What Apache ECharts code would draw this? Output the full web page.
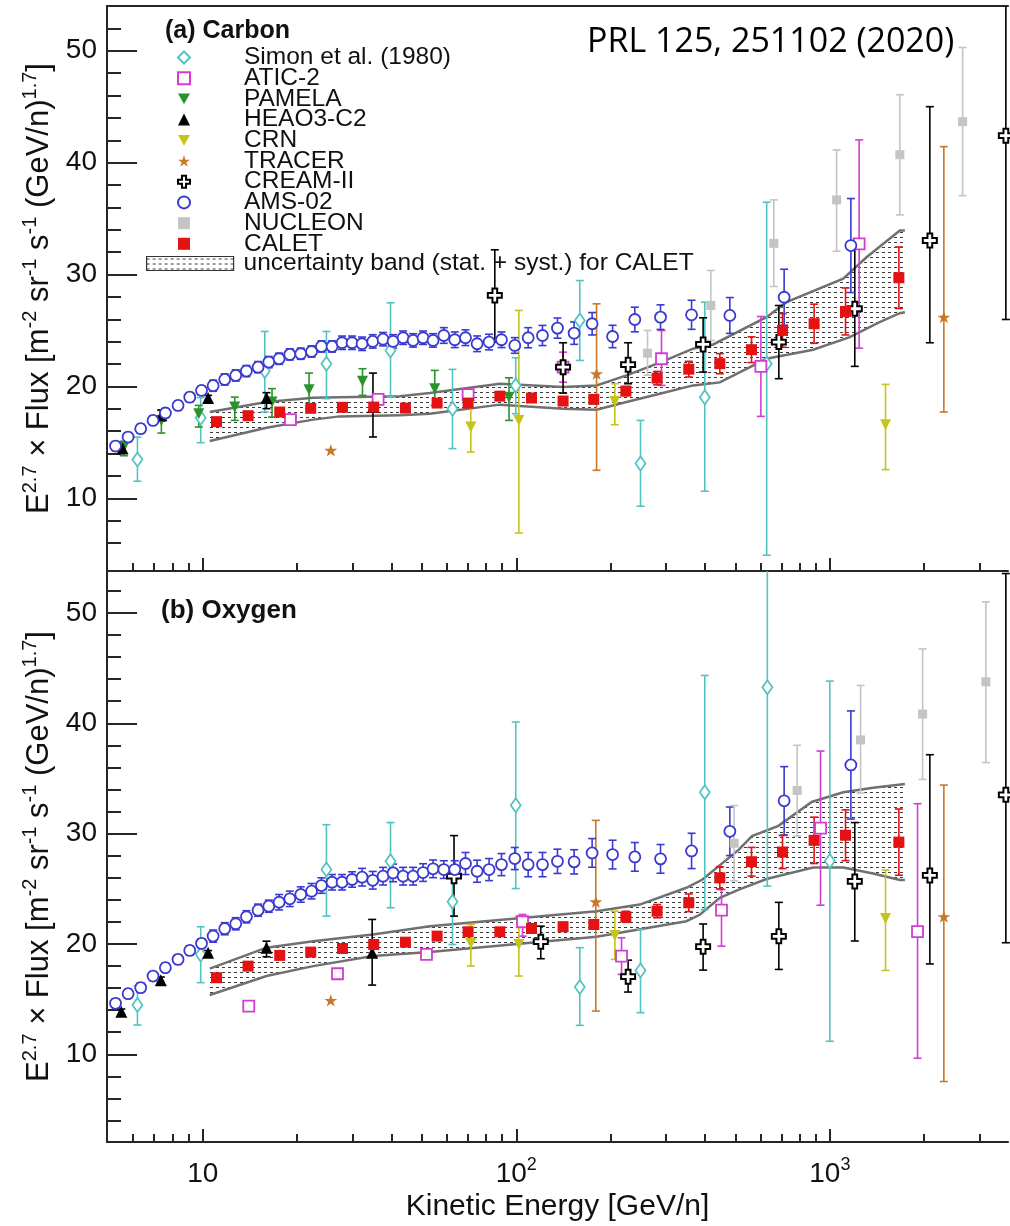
<!DOCTYPE html>
<html>
<head>
<meta charset="utf-8">
<script src="https://cdn.jsdelivr.net/npm/echarts@6/dist/echarts.min.js"></script>
<style>
html, body { margin: 0; padding: 0; background: #fff; }
#chart { width: 1010px; height: 1226px; }
</style>
</head>
<body>
<div id="chart"></div>
<script>
// ---- data: rows are [E (GeV/n), value, low, high] ----
var carbonSimon = [
  [6.19, 13.46, 11.52, 15.47], [9.85, 17.2, 14.97, 19.0], [15.77, 21.37, 17.71, 24.91],
  [24.8, 22.03, 18.9, 24.91], [39.7, 23.21, 19.04, 27.47], [62.6, 18.01, 14.44, 21.52],
  [99.6, 20.09, 17.56, 22.56], [159.4, 25.89, 22.32, 29.46], [249, 13.1, 9.29, 16.96],
  [399.2, 19.04, 10.63, 27.53], [629, 22.03, 4.91, 36.46]
];
var carbonATIC = [
  [19.04, 17.03, 16.7, 17.4], [36.24, 18.84, 18.5, 19.2], [70.2, 19.26, 18.9, 19.6],
  [141, 21.72, 20.38, 23.06], [290.5, 22.47, 20.09, 25.0], [602.6, 21.79, 17.32, 26.25],
  [1240, 32.74, 23.42, 42.03]
];
var carbonPAMELA = [
  [5.6, 14.55, 13.8, 15.1], [7.38, 16.96, 15.83, 17.86], [9.71, 17.56, 16.37, 18.3],
  [12.65, 18.15, 16.96, 19.04], [16.63, 18.6, 17.26, 19.8], [21.83, 19.71, 18.01, 21.19],
  [32.32, 20.45, 19.2, 21.58], [54.95, 19.79, 18.3, 21.43], [94.8, 19.04, 16.96, 20.77]
];
var carbonHEAO = [
  [5.55, 14.44, 14.1, 14.8], [7.38, 17.41, 16.9, 17.9], [10.4, 18.96, 18.7, 19.2],
  [15.97, 18.96, 18.01, 19.44], [34.9, 18.15, 15.48, 21.19]
];
var carbonCRN = [
  [71.6, 16.37, 14.13, 18.75], [101.9, 16.96, 6.9, 26.79], [206.2, 18.66, 16.58, 20.24],
  [1505, 16.58, 12.56, 20.18]
];
var carbonTRACER = [
  [25.6, 14.29, 14.29, 14.29], [180.3, 21.13, 12.5, 27.38], [2310, 26.19, 17.71, 41.43]
];
var carbonCREAM = [
  [85.4, 28.13, 23.96, 32.21], [141, 21.72, 19.4, 23.9], [227.3, 21.94, 20.24, 23.9],
  [394.3, 23.75, 21.28, 26.13], [687.6, 23.96, 20.69, 27.23], [1201, 26.94, 21.79, 32.44],
  [2084, 33.04, 23.9, 45.0], [3642, 42.41, 25.98, 58]
];
var carbonNUCLEON = [
  [262.1, 22.97, 21.0, 25.0], [417.2, 27.23, 24.11, 30.36], [662.7, 32.79, 28.93, 36.67],
  [1051, 36.67, 32.08, 41.13], [1672, 40.71, 35.33, 46.07], [2651, 43.66, 37.05, 50.29]
];

var oxygenSimon = [
  [6.19, 14.46, 12.65, 16.18], [9.85, 19.05, 16.49, 21.56], [24.8, 26.74, 22.52, 30.81],
  [39.7, 27.49, 23.28, 31.0], [62.6, 23.82, 19.95, 26.59], [99.6, 32.56, 25.02, 40.11],
  [159.4, 16.09, 12.62, 19.66], [249, 17.6, 13.77, 21.31], [399.2, 33.75, 23.12, 44.33],
  [632, 43.27, 25.24, 56], [1000, 27.51, 11.18, 43.82]
];
var oxygenATIC = [
  [14.02, 14.37, 14.1, 14.7], [26.9, 17.3, 17.0, 17.6], [51.7, 19.05, 18.75, 19.35],
  [104.7, 22.01, 20.71, 22.67], [216.6, 18.9, 17.24, 20.56], [451.3, 23.06, 19.8, 24.93],
  [933.9, 30.5, 23.51, 37.48], [1904, 21.11, 9.64, 32.71]
];
var oxygenHEAO = [
  [5.5, 13.86, 13.6, 14.1], [7.35, 16.72, 16.5, 17.0], [10.4, 19.2, 19.0, 19.4],
  [15.97, 19.66, 18.84, 20.25], [34.7, 19.2, 16.27, 22.22]
];
var oxygenCRN = [
  [71.6, 20.05, 18.0, 21.76], [101.9, 19.95, 17.09, 22.52], [206.2, 20.77, 18.6, 22.97],
  [1505, 22.31, 17.6, 26.7]
];
var oxygenTRACER = [
  [25.6, 14.89, 14.89, 14.89], [179.3, 23.82, 13.92, 31.2], [2310, 22.48, 7.53, 34.4]
];
var oxygenCREAM = [
  [63.3, 26.14, 22.52, 29.82], [119.7, 20.2, 18.66, 21.61], [227.3, 17.03, 15.64, 18.53],
  [394.3, 19.75, 17.63, 21.81], [687.6, 20.69, 17.69, 23.77], [1201, 25.66, 20.27, 31.0],
  [2084, 26.21, 18.19, 37.15], [3642, 33.52, 20.11, 53.57]
];
var oxygenNUCLEON = [
  [495.1, 29.13, 25.73, 32.54], [786.5, 33.91, 29.78, 38.0], [1253, 38.49, 33.68, 43.43],
  [1976, 40.83, 34.91, 46.74], [3145, 43.76, 36.44, 51.0]
];

// AMS-02: shared energies, values and symmetric errors
var amsEnergy = [5.27, 5.78, 6.34, 6.94, 7.6, 8.34, 9.09, 9.91, 10.79, 11.75, 12.74, 13.78, 15.01,
  16.24, 17.52, 18.95, 20.54, 22.23, 23.91, 25.85, 27.82, 29.94, 32.22, 34.85, 37.59, 40.46, 43.55,
  46.87, 50.43, 54.27, 58.72, 63.64, 68.86, 74.99, 81.88, 89.7, 98.9, 109.1, 121.2, 135.3, 152.9,
  174.5, 202.8, 238.8, 288.4, 362.2, 479.8, 714.9, 1167];
var carbonAMS = [14.67, 15.47, 16.22, 16.96, 17.62, 18.3, 19.04, 19.64, 20.06, 20.62, 20.98, 21.37,
  21.72, 22.17, 22.47, 22.86, 22.92, 23.12, 23.57, 23.57, 23.9, 23.9, 23.81, 24.02, 24.22, 24.02,
  24.35, 24.11, 24.35, 24.11, 24.55, 24.17, 24.35, 23.81, 23.96, 24.17, 23.66, 24.35, 24.55, 25.21,
  24.76, 25.6, 24.46, 25.98, 26.19, 26.4, 26.34, 27.97, 32.59];
var carbonAMSErr = [0.4, 0.4, 0.4, 0.4, 0.4, 0.4, 0.4, 0.4, 0.5, 0.5, 0.5, 0.5, 0.5, 0.5, 0.5, 0.5,
  0.5, 0.5, 0.5, 0.5, 0.6, 0.6, 0.6, 0.6, 0.6, 0.6, 0.6, 0.6, 0.6, 0.6, 0.7, 0.7, 0.7, 0.7, 0.7, 0.7,
  0.7, 0.9, 0.9, 0.9, 1.0, 1.0, 1.0, 1.1, 1.1, 1.3, 1.6, 2.5, 4.2];
var oxygenAMS = [14.62, 15.49, 16.04, 17.09, 17.85, 18.6, 19.41, 20.05, 20.71, 21.38, 21.83, 22.46,
  23.06, 23.42, 23.78, 24.09, 24.48, 24.78, 25.29, 25.59, 25.59, 25.84, 26.05, 25.77, 26.14, 26.44,
  26.14, 26.14, 26.47, 26.81, 26.74, 26.74, 27.29, 26.59, 26.74, 27.19, 27.74, 27.19, 27.19, 27.49,
  27.44, 28.25, 28.1, 27.89, 27.71, 28.43, 30.21, 32.97, 36.22];
var oxygenAMSErr = [0.4, 0.4, 0.4, 0.4, 0.4, 0.4, 0.4, 0.4, 0.55, 0.55, 0.55, 0.55, 0.55, 0.55, 0.7,
  0.7, 0.7, 0.7, 0.7, 0.7, 0.7, 0.7, 0.8, 0.8, 0.8, 0.8, 0.8, 0.8, 0.8, 0.8, 0.8, 0.8, 1.0, 1.0, 1.0,
  1.0, 1.0, 1.1, 1.1, 1.1, 1.1, 1.3, 1.3, 1.3, 1.3, 1.6, 2.2, 3.1, 4.9];

// CALET
var caletEnergy = [11.06, 13.95, 17.6, 22.1, 27.9, 35.1, 44.3, 55.9, 70.2, 88.6, 111.8, 141, 176.7,
  223.6, 281.2, 354.9, 445.8, 562.6, 706.5, 891, 1122, 1660];
var carbonCALET = [16.85, 17.38, 17.71, 18.04, 18.13, 18.15, 18.06, 18.51, 18.51, 19.13, 18.96,
  18.69, 18.84, 19.58, 20.74, 21.54, 22.03, 23.28, 25.0, 25.6, 26.7, 29.71];
var carbonCALETErr = [0.2, 0.2, 0.2, 0.2, 0.2, 0.2, 0.2, 0.25, 0.25, 0.3, 0.3, 0.3, 0.35, 0.4, 0.6,
  0.7, 0.9, 1.15, 1.5, 1.75, 2.1, 2.75];
var oxygenCALET = [16.94, 17.99, 18.96, 19.26, 19.59, 19.95, 20.16, 20.71, 21.1, 21.1, 21.4, 21.56,
  21.76, 22.46, 22.97, 23.73, 25.99, 27.45, 28.33, 29.39, 29.85, 29.23];
var oxygenCALETErr = [0.2, 0.2, 0.2, 0.2, 0.2, 0.25, 0.25, 0.3, 0.3, 0.3, 0.35, 0.4, 0.4, 0.5, 0.6,
  0.8, 1.0, 1.3, 1.5, 2.1, 2.3, 3.0];

// CALET uncertainty bands: [E, value]
var carbonBandUpper = [[10.53, 17.71], [15.97, 18.6], [22.48, 18.99], [27.35, 19.04], [42.5, 19.11],
  [52.98, 19.4], [88.6, 20.24], [141, 19.94], [180.3, 20.09], [224.7, 20.98], [286.9, 22.12],
  [366.4, 23.37], [424.5, 23.75], [628, 26.19], [727.8, 27.53], [1103, 29.62], [1309, 31.54],
  [1672, 33.93], [1735, 33.93]];
var carbonBandLower = [[10.53, 15.12], [15.97, 16.31], [22.48, 17.03], [27.35, 17.32], [42.5, 17.41],
  [52.98, 17.56], [88.6, 18.37], [141, 18.01], [180.3, 17.92], [224.7, 18.6], [286.9, 19.35],
  [366.4, 20.09], [445.8, 20.36], [628, 22.47], [884, 23.28], [1158, 24.4], [1441, 25.74],
  [1672, 26.54], [1735, 26.63]];
var oxygenBandUpper = [[10.53, 17.76], [15.97, 19.66], [22.48, 20.25], [34.9, 20.86], [52.98, 21.61],
  [180.3, 22.97], [247.5, 23.57], [348.6, 25.09], [392.6, 25.84], [512.5, 28.55], [564.6, 29.78],
  [685.3, 30.7], [875.3, 32.87], [1103, 33.75], [1374, 34.16], [1735, 34.5]];
var oxygenBandLower = [[10.53, 15.37], [15.97, 17.09], [22.48, 17.99], [34.9, 18.9], [52.98, 19.26],
  [180.3, 20.65], [348.6, 22.06], [384.7, 22.64], [445.8, 24.18], [512.5, 24.93], [628, 25.88],
  [884, 26.92], [1103, 26.92], [1374, 26.38], [1672, 25.79], [1735, 25.79]];

// axis ticks
var xMajorTicks = [10, 100, 1000];
var xMinorTicks = [6, 7, 8, 9, 20, 30, 40, 50, 60, 70, 80, 90, 200, 300, 400, 500, 600, 700, 800, 900, 2000, 3000];
var yMajorTicks = [10, 20, 30, 40, 50];
var yMinorTicksTop = [6, 8, 12, 14, 16, 18, 22, 24, 26, 28, 32, 34, 36, 38, 42, 44, 46, 48, 52];
var yMinorTicksBottom = [4, 6, 8, 12, 14, 16, 18, 22, 24, 26, 28, 32, 34, 36, 38, 42, 44, 46, 48, 52];

// ---- styling ----
var FONT = 'Liberation Sans, Arial, Helvetica, sans-serif';
var AXIS = '#262626';
var STAR = 'path://M50,2 L61.8,36.2 L97.6,36.2 L68.6,57.4 L79.6,91.6 L50,70.4 L20.4,91.6 L31.4,57.4 L2.4,36.2 L38.2,36.2 Z';
var CROSS = 'path://M33,0 L67,0 L67,33 L100,33 L100,67 L67,67 L67,100 L33,100 L33,67 L0,67 L0,33 L33,33 Z';
var DOWN = 'path://M0,0 L100,0 L50,90 Z';
var BAND_NAME = 'uncertainty band (stat. + syst.) for CALET';

var hatch = document.createElement('canvas');
hatch.width = 6;
hatch.height = 5;
var hctx = hatch.getContext('2d');
hctx.fillStyle = '#3a3a3a';
hctx.fillRect(0, 2, 3, 1);
var bandFill = { image: hatch, repeat: 'repeat' };

var styles = {
  simon: { name: 'Simon et al. (1980)', color: '#52c3c3', symbol: 'diamond', size: [10, 14], open: true },
  atic: { name: 'ATIC-2', color: '#d23cd2', symbol: 'rect', size: 11, open: true },
  pamela: { name: 'PAMELA', color: '#2a942a', symbol: 'triangle', size: 11, rotate: 180 },
  heao: { name: 'HEAO3-C2', color: '#000000', symbol: 'triangle', size: 12 },
  crn: { name: 'CRN', color: '#c4c41c', symbol: 'triangle', size: 11, rotate: 180 },
  tracer: { name: 'TRACER', color: '#c8782a', symbol: STAR, size: 13 },
  cream: { name: 'CREAM-II', color: '#000000', symbol: CROSS, size: 14, open: true },
  ams: { name: 'AMS-02', color: '#3a3ad0', symbol: 'circle', size: 11, open: true },
  nucleon: { name: 'NUCLEON', color: '#c4c4c4', symbol: 'rect', size: 9 },
  calet: { name: 'CALET', color: '#e41212', symbol: 'rect', size: 11 }
};

function withErr(energy, values, errs) {
  return energy.map(function (e, i) {
    return [e, values[i], values[i] - errs[i], values[i] + errs[i]];
  });
}

function errorBar(color) {
  return function (params, api) {
    var x = api.value(0);
    var top = api.coord([x, api.value(3)]);
    var bot = api.coord([x, api.value(2)]);
    var cs = params.coordSys;
    var y1 = Math.max(top[1], cs.y);
    var y2 = Math.min(bot[1], cs.y + cs.height);
    if (y2 - y1 < 1) return null;
    var st = { stroke: color, lineWidth: 1.6 };
    var kids = [{ type: 'line', shape: { x1: top[0], y1: y1, x2: top[0], y2: y2 }, style: st }];
    if (top[1] >= cs.y) {
      kids.push({ type: 'line', shape: { x1: top[0] - 4, y1: top[1], x2: top[0] + 4, y2: top[1] }, style: st });
    }
    if (bot[1] <= cs.y + cs.height) {
      kids.push({ type: 'line', shape: { x1: bot[0] - 4, y1: bot[1], x2: bot[0] + 4, y2: bot[1] }, style: st });
    }
    return { type: 'group', children: kids };
  };
}

function bandItem(upper, lower) {
  return function (params, api) {
    if (params.dataIndex !== 0) return null;
    var up = upper.map(function (p) { return api.coord(p); });
    var lo = lower.map(function (p) { return api.coord(p); });
    var edge = { fill: null, stroke: '#707070', lineWidth: 2.5 };
    return {
      type: 'group',
      children: [
        { type: 'polygon', shape: { points: up.concat(lo.slice().reverse()) }, style: { fill: bandFill } },
        { type: 'polyline', shape: { points: up }, style: edge },
        { type: 'polyline', shape: { points: lo }, style: edge }
      ]
    };
  };
}

var series = [];

function addSet(panel, key, rows) {
  var st = styles[key];
  var xi = panel === 0 ? 0 : 3;
  var yi = panel === 0 ? 0 : 2;
  series.push({
    type: 'custom', xAxisIndex: xi, yAxisIndex: yi, z: 3, silent: true,
    renderItem: errorBar(st.color), data: rows
  });
  series.push({
    type: 'scatter', name: st.name, xAxisIndex: xi, yAxisIndex: yi,
    z: key === 'calet' ? 6 : 5,
    symbol: st.symbol, symbolSize: st.size, symbolRotate: st.rotate || 0, symbolKeepAspect: true,
    itemStyle: st.open
      ? { color: '#ffffff', borderColor: st.color, borderWidth: key === 'cream' ? 2 : 1.8, opacity: 1 }
      : { color: st.color, opacity: 1 },
    data: rows.map(function (r) { return [r[0], r[1]]; })
  });
}

function addBand(panel, upper, lower) {
  series.push({
    type: 'custom', name: BAND_NAME, silent: true,
    xAxisIndex: panel === 0 ? 0 : 3, yAxisIndex: panel === 0 ? 0 : 2, z: 2,
    itemStyle: { color: '#888' },
    renderItem: bandItem(upper, lower), data: upper
  });
}

addBand(0, carbonBandUpper, carbonBandLower);
addSet(0, 'simon', carbonSimon);
addSet(0, 'atic', carbonATIC);
addSet(0, 'pamela', carbonPAMELA);
addSet(0, 'heao', carbonHEAO);
addSet(0, 'crn', carbonCRN);
addSet(0, 'tracer', carbonTRACER);
addSet(0, 'cream', carbonCREAM);
addSet(0, 'ams', withErr(amsEnergy, carbonAMS, carbonAMSErr));
addSet(0, 'nucleon', carbonNUCLEON);
addSet(0, 'calet', withErr(caletEnergy, carbonCALET, carbonCALETErr));

addBand(1, oxygenBandUpper, oxygenBandLower);
addSet(1, 'simon', oxygenSimon);
addSet(1, 'atic', oxygenATIC);
addSet(1, 'heao', oxygenHEAO);
addSet(1, 'crn', oxygenCRN);
addSet(1, 'tracer', oxygenTRACER);
addSet(1, 'cream', oxygenCREAM);
addSet(1, 'ams', withErr(amsEnergy, oxygenAMS, oxygenAMSErr));
addSet(1, 'nucleon', oxygenNUCLEON);
addSet(1, 'calet', withErr(caletEnergy, oxygenCALET, oxygenCALETErr));

var xMin = 4.95, xMax = 3700;
var lineStyle = { color: AXIS, width: 2 };

function xAxisDef(grid, ticks, len, opts) {
  var a = {
    gridIndex: grid, type: 'log', logBase: 10, min: xMin, max: xMax, position: 'bottom',
    axisLine: { show: false, lineStyle: lineStyle },
    axisTick: { inside: true, length: len, customValues: ticks, lineStyle: lineStyle },
    axisLabel: { show: false },
    splitLine: { show: false }
  };
  return Object.assign(a, opts || {});
}

function yAxisDef(grid, min, max, ticks, len, opts) {
  var a = {
    gridIndex: grid, type: 'value', min: min, max: max, position: 'left',
    axisLine: { show: false, lineStyle: lineStyle },
    axisTick: { inside: true, length: len, customValues: ticks, lineStyle: lineStyle },
    axisLabel: { show: false },
    splitLine: { show: false }
  };
  return Object.assign(a, opts || {});
}

var yName = '{m|E}{s|2.7}{m| \u00d7 Flux [m}{s|-2}{m| sr}{s|-1}{m| s}{s|-1}{m| (GeV/n)}{s|1.7}{m|]}';
var yNameStyle = {
  fontFamily: FONT, color: '#111',
  rich: {
    m: { fontFamily: FONT, fontSize: 31, lineHeight: 38, color: '#111' },
    s: { fontFamily: FONT, fontSize: 20, lineHeight: 20, verticalAlign: 'top', color: '#111' }
  }
};
var yLabel = { show: true, customValues: yMajorTicks, fontFamily: FONT, fontSize: 28, color: '#111', margin: 10 };

var legendText = { fontFamily: FONT, fontSize: 24.5, lineHeight: 24, color: '#111' };

var option = {
  animation: false,
  backgroundColor: '#ffffff',
  grid: [
    { left: 107, right: 2, top: 6, height: 565, outerBoundsMode: 'none' },
    { left: 107, right: 2, top: 571, height: 571, outerBoundsMode: 'none' }
  ],
  xAxis: [
    xAxisDef(0, xMajorTicks, 13, { axisLine: { show: true, lineStyle: lineStyle } }),
    xAxisDef(0, xMinorTicks, 8),
    xAxisDef(0, [], 0, { position: 'top', axisLine: { show: true, lineStyle: lineStyle }, axisTick: { show: false } }),
    xAxisDef(1, xMajorTicks, 13, {
      axisLine: { show: true, lineStyle: lineStyle },
      axisLabel: {
        show: true, customValues: xMajorTicks, margin: 14, fontFamily: FONT, fontSize: 28, color: '#111',
        formatter: function (v) {
          var p = Math.round(Math.log(v) / Math.LN10);
          return p === 1 ? '{b|10}' : '{b|10}{s|' + p + '}';
        },
        rich: {
          b: { fontFamily: FONT, fontSize: 28, lineHeight: 36, color: '#111' },
          s: { fontFamily: FONT, fontSize: 18, lineHeight: 18, verticalAlign: 'top', color: '#111' }
        }
      },
      name: 'Kinetic Energy [GeV/n]', nameLocation: 'middle', nameGap: 50,
      nameTextStyle: { fontFamily: FONT, fontSize: 30, color: '#111' }
    }),
    xAxisDef(1, xMinorTicks, 8)
  ],
  yAxis: [
    yAxisDef(0, 3.5, 54, yMajorTicks, 30, {
      axisLine: { show: true, lineStyle: lineStyle }, axisLabel: yLabel,
      name: yName, nameLocation: 'middle', nameRotate: 90, nameGap: 46, nameTextStyle: yNameStyle
    }),
    yAxisDef(0, 3.5, 54, yMinorTicksTop, 14),
    yAxisDef(1, 2.05, 53.8, yMajorTicks, 30, {
      axisLine: { show: true, lineStyle: lineStyle }, axisLabel: yLabel,
      name: yName, nameLocation: 'middle', nameRotate: 90, nameGap: 46, nameTextStyle: yNameStyle
    }),
    yAxisDef(1, 2.05, 53.8, yMinorTicksBottom, 14)
  ],
  legend: [
    {
      data: ['Simon et al. (1980)', 'ATIC-2', { name: 'PAMELA', icon: DOWN }, 'HEAO3-C2',
        { name: 'CRN', icon: DOWN }, 'TRACER', 'CREAM-II', 'AMS-02', 'NUCLEON', 'CALET'],
      orient: 'vertical', left: 177, top: 45, padding: 0, itemGap: -4.3,
      itemWidth: 12, itemHeight: 12, selectedMode: false,
      textStyle: Object.assign({ padding: [0, 0, 0, 49] }, legendText)
    },
    {
      data: [{ name: BAND_NAME, icon: 'rect', itemStyle: { color: bandFill, borderColor: '#333', borderWidth: 1.2 } }],
      orient: 'vertical', left: 146, top: 251, padding: 0,
      itemWidth: 87, itemHeight: 14, selectedMode: false,
      textStyle: Object.assign({ padding: [0, 0, 0, 5] }, legendText)
    }
  ],
  graphic: [
    { type: 'text', left: 165, top: 19, style: { text: '(a) Carbon', font: 'bold 25px ' + FONT, fill: '#111' } },
    { type: 'text', left: 161, top: 598, style: { text: '(b) Oxygen', font: 'bold 26px ' + FONT, fill: '#111' } },
    { type: 'text', left: 587, top: 25, style: { text: 'PRL 125, 251102 (2020)', font: '34px Open Sans, Noto Sans, sans-serif', fill: '#000' } }
  ],
  series: series
};

var chart = echarts.init(document.getElementById('chart'));
chart.setOption(option);
</script>
</body>
</html>
